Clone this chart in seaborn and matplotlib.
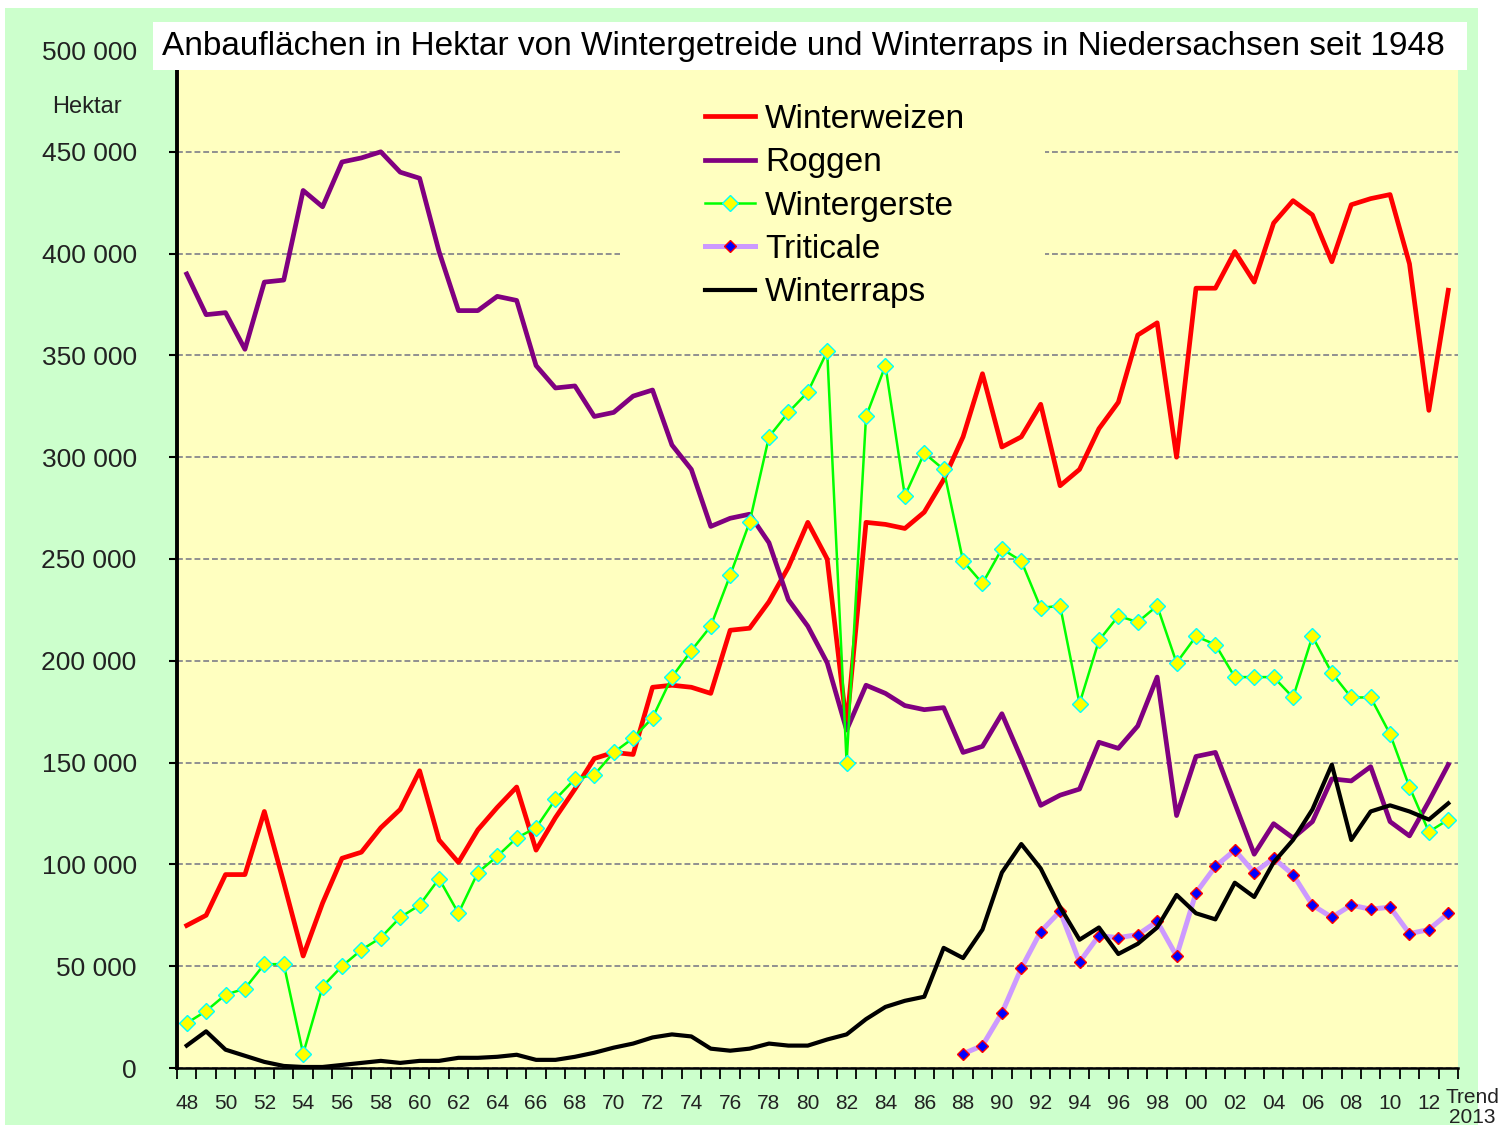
import numpy as np
import pandas as pd
import seaborn as sns
import matplotlib.pyplot as plt
from matplotlib.patches import Rectangle
import matplotlib.transforms as mtransforms

plt.rcParams['font.family'] = ['Liberation Sans', 'DejaVu Sans']

#---------------------------------data (hectare)
years = list(range(1948, 2014))
year_labels = [str(y)[2:] for y in years]
year_labels[-1] = "Trend\n2013"

winterweizen = [70000, 75000, 95000, 95000, 126000, 91000, 55000, 81000, 103000, 106000,
                118000, 127000, 146000, 112000, 101000, 117000, 128000, 138000, 107000, 123000,
                137000, 152000, 155000, 154000, 187000, 188000, 187000, 184000, 215000, 216000,
                229000, 246000, 268000, 250000, 168000, 268000, 267000, 265000, 273000, 289000,
                310000, 341000, 305000, 310000, 326000, 286000, 294000, 314000, 327000, 360000,
                366000, 300000, 383000, 383000, 401000, 386000, 415000, 426000, 419000, 396000,
                424000, 427000, 429000, 395000, 323000, 382000]
roggen = [390000, 370000, 371000, 353000, 386000, 387000, 431000, 423000, 445000, 447000,
          450000, 440000, 437000, 401000, 372000, 372000, 379000, 377000, 345000, 334000,
          335000, 320000, 322000, 330000, 333000, 306000, 294000, 266000, 270000, 272000,
          258000, 230000, 217000, 199000, 166000, 188000, 184000, 178000, 176000, 177000,
          155000, 158000, 174000, 152000, 129000, 134000, 137000, 160000, 157000, 168000,
          192000, 124000, 153000, 155000, 130000, 105000, 120000, 113000, 121000, 142000,
          141000, 148000, 121000, 114000, 131000, 149000]
wintergerste = [22000, 28000, 36000, 39000, 51000, 51000, 7000, 40000, 50000, 58000,
                64000, 74000, 80000, 93000, 76000, 96000, 104000, 113000, 118000, 132000,
                142000, 144000, 155000, 162000, 172000, 192000, 205000, 217000, 242000, 268000,
                310000, 322000, 332000, 352000, 150000, 320000, 345000, 281000, 302000, 294000,
                249000, 238000, 255000, 249000, 226000, 227000, 179000, 210000, 222000, 219000,
                227000, 199000, 212000, 208000, 192000, 192000, 192000, 182000, 212000, 194000,
                182000, 182000, 164000, 138000, 116000, 122000]
triticale = [np.nan] * 40 + [7000, 11000, 27000, 49000, 67000, 77000, 52000, 65000, 64000, 65500,
                             72000, 55000, 86000, 99000, 107000, 96000, 103000, 95000, 80000, 74000,
                             80000, 78000, 79000, 66000, 68000, 76000]
winterraps = [11000, 18000, 9000, 6000, 3000, 1000, 500, 500, 1500, 2500,
              3500, 2500, 3500, 3500, 5000, 5000, 5500, 6500, 4000, 4000,
              5500, 7500, 10000, 12000, 15000, 16500, 15500, 9500, 8500, 9500,
              12000, 11000, 11000, 14000, 16500, 24000, 30000, 33000, 35000, 59000,
              54000, 68000, 96000, 110000, 98000, 79000, 63000, 69000, 56000, 61000,
              69000, 85000, 76000, 73000, 91000, 84000, 101000, 112000, 127000, 149000,
              112000, 126000, 129000, 126000, 122000, 130000]
y_ticks = list(range(0, 500001, 50000))

data = pd.DataFrame({"pos": np.arange(len(years)), "Winterweizen": winterweizen,
                     "Roggen": roggen, "Wintergerste": wintergerste,
                     "Triticale": triticale, "Winterraps": winterraps})

#---------------------------------figure
W, H = 1507, 1128
fig = plt.figure(figsize=(W / 100, H / 100), dpi=100)
fig.patch.set_facecolor("white")
fig.patches.append(Rectangle((5 / W, 3 / H), 1473 / W, 1117 / H, transform=fig.transFigure,
                             facecolor="#ccffcc", edgecolor="none", zorder=-10))

ax = fig.add_axes([177 / W, 60 / H, 1281 / W, 1018 / H])
ax.set_facecolor("#ffffc0")

sns.lineplot(data=data, x="pos", y="Winterweizen", ax=ax, color="#ff0000", lw=3.4, label="Winterweizen")
sns.lineplot(data=data, x="pos", y="Roggen", ax=ax, color="#800080", lw=3.4, label="Roggen")
sns.lineplot(data=data, x="pos", y="Wintergerste", ax=ax, color="#00ff00", lw=1.8, label="Wintergerste",
             marker="D", markersize=8, markerfacecolor="#ffff00", markeredgecolor="#00ffff", markeredgewidth=1)
sns.lineplot(data=data, x="pos", y="Triticale", ax=ax, color="#cc99ff", lw=3.6, label="Triticale",
             marker="D", markersize=6.5, markerfacecolor="#0000ff", markeredgecolor="#ff0000", markeredgewidth=1)
sns.lineplot(data=data, x="pos", y="Winterraps", ax=ax, color="#000000", lw=3.0, label="Winterraps")

ax.set_xlim(-0.5, len(years) - 0.5)
ax.set_ylim(0, 500000)
ax.set_xlabel("")
ax.set_ylabel("")

# y axis
ax.set_yticks(y_ticks)
ax.set_yticklabels([f"{v:,}".replace(",", " ") for v in y_ticks], fontsize=19, color="#222222")
ax.tick_params(axis="y", length=6, width=1.5, pad=23, direction="out")
ax.yaxis.grid(True, color="#909090", lw=1.4, linestyle=(0, (3, 1.5)))
ax.set_axisbelow(True)

# x axis (category style: marks between years, label every second year)
lab_idx = list(range(0, len(years) - 1, 2)) + [len(years) - 1]
ax.set_xticks(lab_idx)
ax.set_xticklabels([year_labels[i] for i in lab_idx], fontsize=15, color="#222222")
ax.set_xticks(np.arange(-0.5, len(years), 1), minor=True)
ax.tick_params(axis="x", which="major", length=0, pad=19)
ax.tick_params(axis="x", which="minor", length=8, width=1.3, direction="out")
last = ax.get_xticklabels()[-1]
last.set_fontsize(15)
last.set_linespacing(1.05)
last.set_transform(last.get_transform() + mtransforms.ScaledTranslation(0.24, 0.06, fig.dpi_scale_trans))

for s in ["top", "right"]:
    ax.spines[s].set_visible(False)
ax.spines["left"].set_linewidth(2.8)
ax.spines["bottom"].set_linewidth(1.8)

# legend area hides the grid lines
ax.add_patch(Rectangle((0.3458, 0.73), 0.332, 0.25, transform=ax.transAxes,
                       facecolor="#ffffc0", edgecolor="none", zorder=1))
ax.legend(loc="upper left", bbox_to_anchor=((705 - 177) / 1281, (1068 - 104) / 1018),
          frameon=False, fontsize=24, handlelength=1.5, handletextpad=0.3,
          labelspacing=0.37, borderpad=0, borderaxespad=0)

# title box and unit label
fig.patches.append(Rectangle((153 / W, (H - 70) / H), 1314 / W, 48 / H, transform=fig.transFigure,
                             facecolor="white", edgecolor="none", zorder=5))
fig.text(162 / W, 1 - 46 / H, "Anbauflächen in Hektar von Wintergetreide und Winterraps in Niedersachsen seit 1948",
         fontsize=24, va="center", ha="left", zorder=6)
fig.text(87 / W, 1 - 107 / H, "Hektar", fontsize=17, ha="center", va="center", color="#222222")

fig.savefig("out.png", dpi=100, facecolor=fig.get_facecolor())
